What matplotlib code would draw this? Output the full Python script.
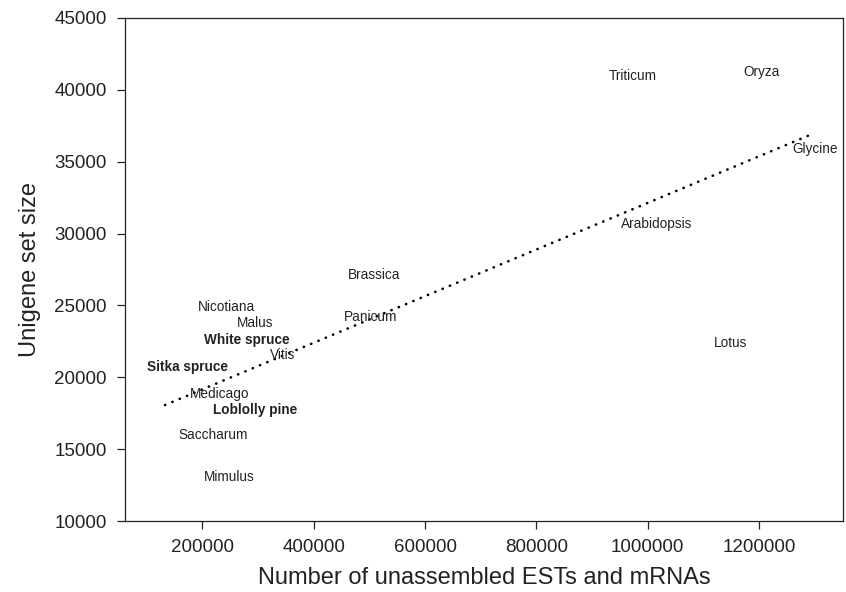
import matplotlib
matplotlib.use("Agg")
import matplotlib.pyplot as plt

plt.rcParams['font.family'] = ['Liberation Sans', 'DejaVu Sans']

# species labels placed at (ESTs, unigene set size)
species = ["Triticum", "Oryza", "Glycine", "Arabidopsis", "Lotus", "Brassica",
           "Panicum", "Nicotiana", "Malus", "White spruce", "Vitis",
           "Sitka spruce", "Medicago", "Loblolly pine", "Saccharum", "Mimulus"]
ests = [973600, 1205300, 1300500, 1016600, 1149600, 508300,
        503000, 242500, 294600, 280200, 344900,
        172400, 231700, 294600, 219200, 248000]
unigenes = [40960, 41240, 35880, 30665, 22385, 27117,
            24194, 24890, 23777, 22594, 21550,
            20715, 18837, 17723, 15984, 13061]
conifers = ["White spruce", "Sitka spruce", "Loblolly pine"]

# regression line end points
fit_x = [132900, 1291500]
fit_y = [18071, 36858]

x_ticks = [200000, 400000, 600000, 800000, 1000000, 1200000]
y_ticks = [10000, 15000, 20000, 25000, 30000, 35000, 40000, 45000]

fig = plt.figure(figsize=(8.46, 5.92), dpi=100)
ax = fig.add_axes([125 / 846, 1 - 521 / 592, (843 - 125) / 846, (521 - 18) / 592])

ax.plot(fit_x, fit_y, color="black", linewidth=1.9, linestyle=(0, (0.1, 2.9)),
        dash_capstyle="round")

for name, x, y in zip(species, ests, unigenes):
    weight = "bold" if name in conifers else "normal"
    ax.text(x, y, name, ha="center", va="center", fontsize=9.8,
            fontweight=weight, color="#222222")

ax.set_xlim(61000, 1351000)
ax.set_ylim(10000, 45000)
ax.set_xticks(x_ticks)
ax.set_xticklabels([str(t) for t in x_ticks])
ax.set_yticks(y_ticks)
ax.set_yticklabels([str(t) for t in y_ticks])

for s in ax.spines.values():
    s.set_color("#222222")
    s.set_linewidth(0.9)
ax.tick_params(direction="out", length=6, width=0.9, color="#222222",
               labelsize=13.5, labelcolor="#222222", pad=7)

ax.set_xlabel("Number of unassembled ESTs and mRNAs", fontsize=17,
              color="#222222", labelpad=8)
ax.set_ylabel("Unigene set size", fontsize=17, color="#222222", labelpad=10)

fig.savefig("out.png", dpi=100)
